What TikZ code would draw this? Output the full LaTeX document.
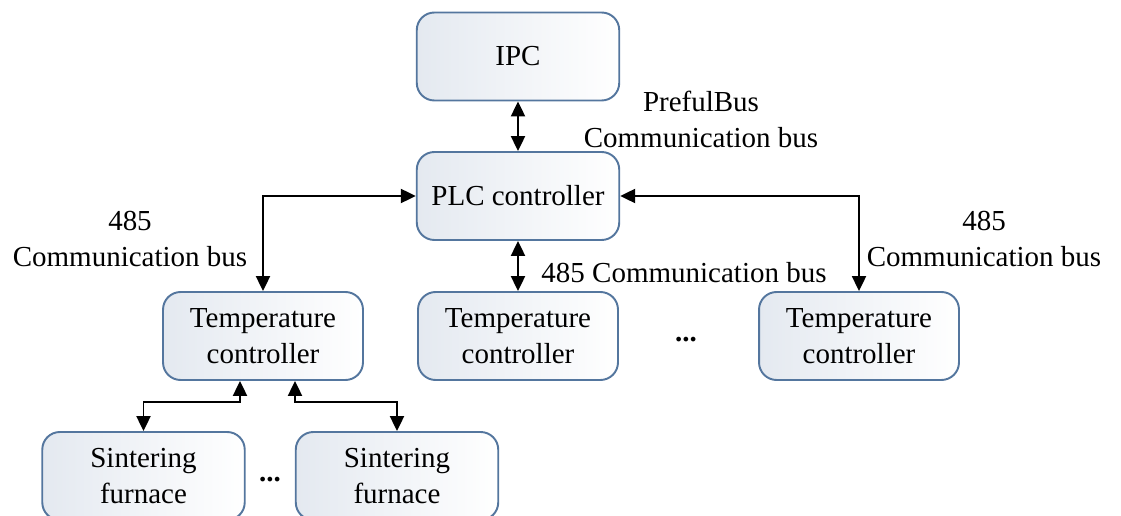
\documentclass[tikz,border=0pt]{standalone}
\usepackage{fontspec}
\setmainfont{Liberation Serif}
\usetikzlibrary{arrows.meta}

\definecolor{boxline}{RGB}{84,118,158}
\definecolor{boxfill}{RGB}{228,233,240}

\tikzset{
  unit/.style={draw=boxline, line width=1.1pt, rounded corners=10pt,
    left color=boxfill, right color=white, align=center,
    minimum width=4.05cm, minimum height=1.76cm, inner sep=0pt,
    font=\fontsize{16.5}{20.5}\selectfont},
  link/.style={line width=1pt, {Triangle[length=8.5pt,width=8pt]}-{Triangle[length=8.5pt,width=8pt]}},
  tag/.style={align=center, font=\fontsize{16.5}{20.5}\selectfont}
}

\begin{document}
\begin{tikzpicture}[x=0.02cm, y=-0.02cm]
    \useasboundingbox (0,0) rectangle (1121,516);
    %
    \node[unit] (ipc) at (518,56.5) {IPC};
    \node[unit] (plc) at (518,196) {PLC controller};
    % 
    \node[unit, minimum width=4cm] (tcl) at (263,336) {Temperature\\controller};
    \node[unit, minimum width=4cm] (tcm) at (518,336) {Temperature\\controller};
    \node[unit, minimum width=4cm] (tcr) at (859,336) {Temperature\\controller};
    % 
    \node[unit] (sfl) at (143.5,476) {Sintering\\furnace};
    \node[unit] (sfr) at (397,476) {Sintering\\furnace};
    %%%%%%%%%%%%%%%%%%%%%% 
    \draw[link] (ipc) -- (plc);
    \draw[link] (plc) -- (tcm);
    \draw[link] (plc.west) -| (tcl.north);
    \draw[link] (plc.east) -| (tcr.north);
    % 
    \coordinate (jl) at (240,402);
    \coordinate (jr) at (295,402);
    \draw[link] (tcl.south -| jl) -- (jl) -| (sfl.north);
    \draw[link] (tcl.south -| jr) -- (jr) -| (sfr.north);
    %%%%%%%%%%%%%%%%%%%%%% 
    \node[tag] (busa) at (701,119) {PrefulBus\\Communication bus};
    \node[tag] (busb) at (130,239) {485\\Communication bus};
    \node[tag] (busc) at (984,239) {485\\Communication bus};
    \node[tag] (busd) at (684,273) {485 Communication bus};
    % 
    \node[tag] (dotm) at (686,340) {\textbf{...}};
    \node[tag] (dotb) at (270,480) {\textbf{...}};
\end{tikzpicture}
\end{document}
